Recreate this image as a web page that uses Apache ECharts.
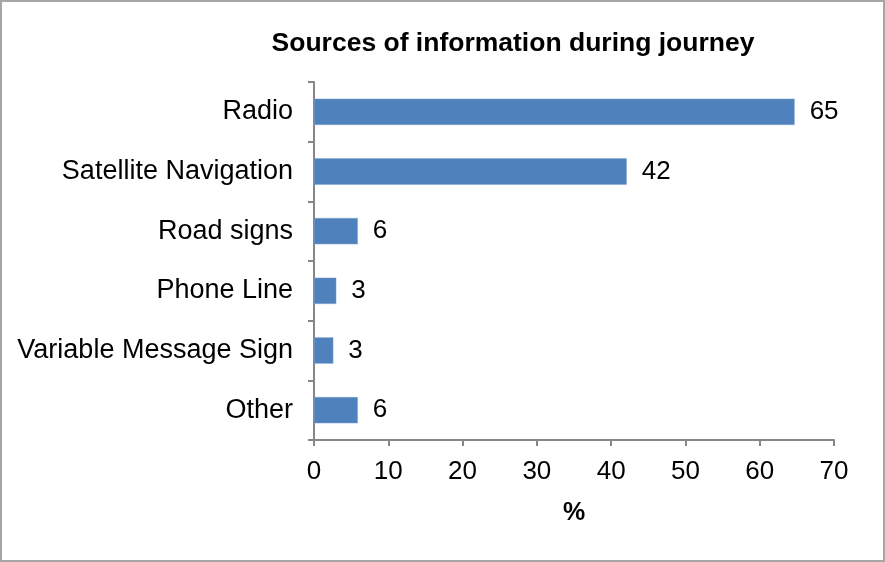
<!DOCTYPE html>
<html>
<head>
<meta charset="utf-8">
<script src="https://cdn.jsdelivr.net/npm/echarts@6/dist/echarts.min.js"></script>
<style>
  html, body { margin: 0; padding: 0; background: #fff; }
  #main { width: 885px; height: 562px; box-sizing: border-box; border: 2px solid #a6a6a6; }
</style>
</head>
<body>
<div id="main"></div>
<script>
// categories, top to bottom
var categories = ['Radio', 'Satellite Navigation', 'Road signs', 'Phone Line', 'Variable Message Sign', 'Other'];
// bar lengths (%)
var percents = [64.7, 42.1, 5.9, 3.0, 2.6, 5.9];
// printed labels
var labels = ['65', '42', '6', '3', '3', '6'];
var xTicks = [0, 70, 10];

var font = 'Liberation Sans, Arial, sans-serif';

var myChart = echarts.init(document.getElementById('main'));
var option = {
  animation: false,
  title: {
    text: 'Sources of information during journey',
    left: 506,
    textAlign: 'center',
    top: 23,
    textStyle: { fontFamily: font, fontSize: 26.5, fontWeight: 'bold', color: '#000' }
  },
  grid: { left: 312, right: 49, top: 80, bottom: 120 },
  xAxis: {
    type: 'value',
    min: xTicks[0],
    max: xTicks[1],
    interval: xTicks[2],
    name: '%',
    nameLocation: 'middle',
    nameGap: 61,
    nameTextStyle: { fontFamily: font, fontSize: 25, fontWeight: 'bold', color: '#000' },
    axisLine: { show: true, lineStyle: { color: '#868686', width: 2 } },
    axisTick: { show: true, length: 6, lineStyle: { color: '#868686', width: 2 } },
    axisLabel: { margin: 19, fontFamily: font, fontSize: 26, color: '#000' },
    splitLine: { show: false }
  },
  yAxis: {
    type: 'category',
    inverse: true,
    data: categories,
    axisLine: { show: true, lineStyle: { color: '#868686', width: 2 } },
    axisTick: { show: true, length: 6, lineStyle: { color: '#868686', width: 2 } },
    axisLabel: { margin: 21, fontFamily: font, fontSize: 27, color: '#000' }
  },
  series: [{
    type: 'bar',
    data: percents,
    barCategoryGap: '56%',
    itemStyle: { color: '#4F81BD', borderColor: '#7FA3D0', borderWidth: 0.5 },
    label: {
      show: true,
      position: 'right',
      distance: 15,
      fontFamily: font,
      fontSize: 26,
      color: '#000',
      formatter: function (p) { return labels[p.dataIndex]; }
    }
  }]
};
myChart.setOption(option);
</script>
</body>
</html>
